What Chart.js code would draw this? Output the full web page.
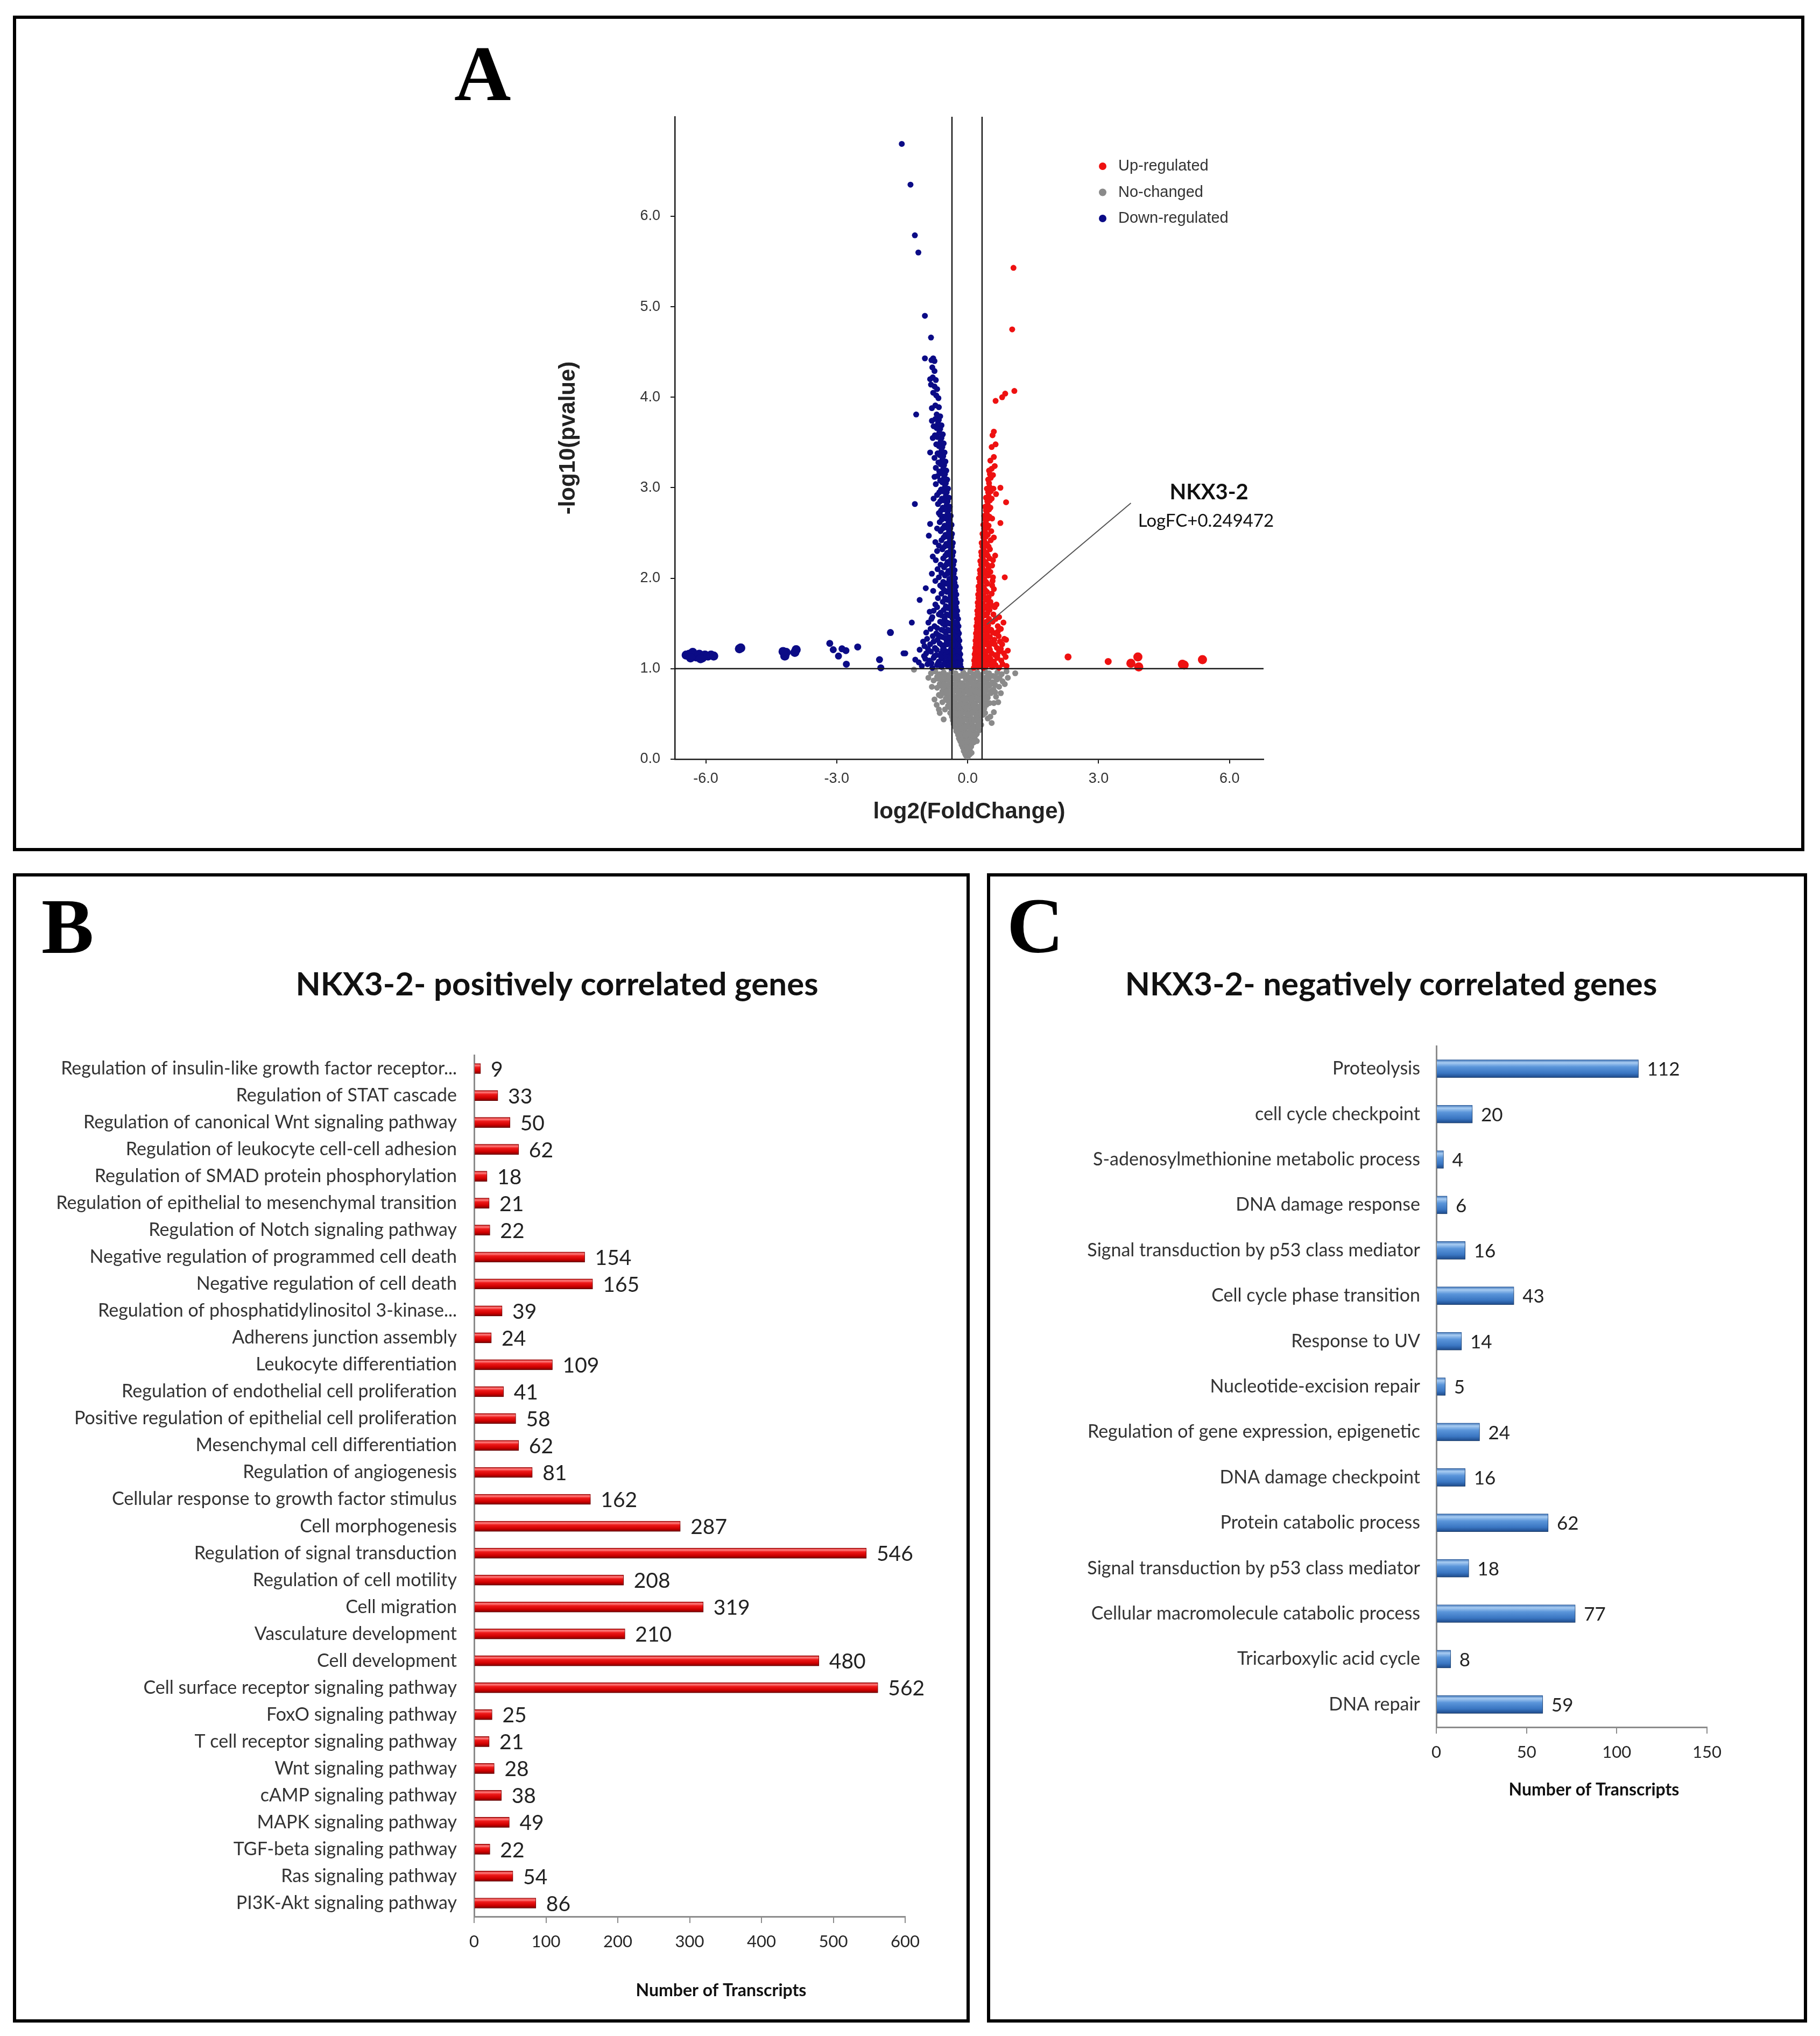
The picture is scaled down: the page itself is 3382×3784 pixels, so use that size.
<!DOCTYPE html>
<html>
<head>
<meta charset="utf-8">
<title>NKX3-2 volcano plot and GO enrichment</title>
<script src="https://cdn.jsdelivr.net/npm/chart.js@4.4.1/dist/chart.umd.min.js"></script>
<style>
  html, body { margin: 0; padding: 0; background: #fff; }
  body { width: 3382px; height: 3784px; position: relative; overflow: hidden; }
  .panel { position: absolute; border: 6px solid #000; box-sizing: border-box; background: #fff; }
  .panel canvas { position: absolute; left: 0; top: 0; }
  .letter { position: absolute; font-family: "Liberation Serif", "Times New Roman", serif; font-weight: bold;
            font-size: 146px; line-height: 1; color: #000; }
</style>
</head>
<body>
<div class="panel" style="left:24px;top:29px;width:3329px;height:1553px;">
  <canvas id="volcanoChart" width="3317" height="1541" style="width:3317px;height:1541px;"></canvas>
</div>
<div class="panel" style="left:24px;top:1623px;width:1778px;height:2136px;">
  <canvas id="positiveChart" width="1766" height="2124" style="width:1766px;height:2124px;"></canvas>
</div>
<div class="panel" style="left:1834px;top:1623px;width:1524px;height:2136px;">
  <canvas id="negativeChart" width="1512" height="2124" style="width:1512px;height:2124px;"></canvas>
</div>
<div class="letter" style="left:844px;top:64px;">A</div>
<div class="letter" style="left:77px;top:1649px;">B</div>
<div class="letter" style="left:1871px;top:1648px;">C</div>

<script>
// ---- volcano plot data: [log2 fold change, -log10 p] ----
const volcanoSeries = ['Up-regulated', 'No-changed', 'Down-regulated'];

const upRegulated = [
  [0.14,1.01],[0.19,1.04],[0.24,1.02],[0.30,1.05],[0.36,1.01],[0.42,1.03],[0.49,1.06],[0.56,1.02],[0.64,1.04],[0.72,1.01],[0.80,1.05],[0.89,1.03],
  [0.15,1.09],[0.20,1.11],[0.26,1.08],[0.32,1.12],[0.38,1.09],[0.45,1.07],[0.52,1.11],[0.60,1.08],[0.68,1.12],[0.77,1.09],[0.87,1.13],
  [0.16,1.16],[0.21,1.18],[0.27,1.15],[0.33,1.19],[0.40,1.16],[0.47,1.20],[0.55,1.17],[0.63,1.15],[0.72,1.19],[0.83,1.17],
  [0.17,1.23],[0.22,1.26],[0.28,1.24],[0.34,1.22],[0.41,1.27],[0.49,1.24],[0.58,1.28],[0.67,1.23],[0.79,1.27],[0.88,1.32],
  [0.18,1.31],[0.23,1.33],[0.29,1.30],[0.35,1.34],[0.43,1.31],[0.51,1.35],[0.61,1.32],[0.71,1.36],[0.84,1.33],
  [0.19,1.39],[0.24,1.41],[0.30,1.38],[0.37,1.42],[0.45,1.40],[0.54,1.43],[0.64,1.39],[0.76,1.44],
  [0.20,1.47],[0.25,1.49],[0.31,1.46],[0.38,1.50],[0.47,1.48],[0.57,1.52],[0.69,1.47],[0.82,1.51],
  [0.21,1.55],[0.26,1.58],[0.32,1.56],[0.40,1.59],[0.49,1.55],[0.59,1.60],[0.72,1.57],
  [0.22,1.64],[0.27,1.66],[0.33,1.63],[0.41,1.67],[0.50,1.65],[0.62,1.68],
  [0.23,1.73],[0.28,1.75],[0.34,1.72],[0.42,1.76],[0.52,1.74],[0.66,1.71],
  [0.24,1.82],[0.29,1.84],[0.36,1.81],[0.44,1.85],[0.55,1.83],[0.60,1.88],
  [0.25,1.91],[0.31,1.93],[0.37,1.90],[0.45,1.94],[0.56,1.92],
  [0.26,2.00],[0.32,2.02],[0.38,1.99],[0.47,2.03],[0.58,2.01],[0.85,2.01],
  [0.28,2.09],[0.34,2.11],[0.40,2.08],[0.48,2.12],[0.56,2.14],
  [0.29,2.19],[0.35,2.21],[0.41,2.18],[0.50,2.22],[0.58,2.20],
  [0.31,2.29],[0.37,2.31],[0.43,2.28],[0.51,2.32],
  [0.32,2.39],[0.38,2.41],[0.44,2.38],[0.53,2.42],
  [0.34,2.49],[0.40,2.51],[0.46,2.48],[0.54,2.52],
  [0.36,2.59],[0.42,2.61],[0.48,2.58],[0.75,2.61],
  [0.38,2.69],[0.44,2.71],[0.50,2.68],
  [0.40,2.79],[0.46,2.81],[0.52,2.78],[0.88,2.84],
  [0.42,2.89],[0.48,2.91],[0.55,2.88],[0.65,2.93],
  [0.44,2.99],[0.50,3.01],[0.75,3.00],
  [0.47,3.09],[0.53,3.11],[0.58,3.14],
  [0.49,3.19],[0.55,3.21],[0.62,3.24],
  [0.52,3.30],[0.60,3.34],
  [0.55,3.45],[0.64,3.48],
  [0.57,3.58],[0.60,3.62],
  [0.16,1.05],[0.22,1.05],[0.27,1.06],[0.33,1.05],[0.39,1.06],[0.46,1.05],[0.53,1.04],
  [0.17,1.12],[0.23,1.13],[0.29,1.12],[0.35,1.13],[0.42,1.12],[0.49,1.13],
  [0.18,1.19],[0.24,1.20],[0.30,1.19],[0.36,1.20],[0.43,1.19],[0.51,1.21],
  [0.19,1.27],[0.25,1.28],[0.31,1.27],[0.38,1.28],[0.45,1.27],[0.53,1.29],
  [0.20,1.35],[0.26,1.36],[0.32,1.35],[0.39,1.36],[0.47,1.35],
  [0.21,1.43],[0.27,1.44],[0.33,1.43],[0.41,1.44],[0.50,1.43],
  [0.22,1.51],[0.28,1.52],[0.35,1.51],[0.43,1.52],
  [0.23,1.60],[0.29,1.61],[0.36,1.60],[0.45,1.61],
  [0.24,1.69],[0.30,1.70],[0.37,1.69],[0.46,1.70],
  [0.25,1.78],[0.31,1.79],[0.39,1.78],[0.48,1.79],
  [0.26,1.87],[0.33,1.88],[0.40,1.87],
  [0.28,1.96],[0.34,1.97],[0.42,1.96],
  [0.29,2.05],[0.35,2.06],[0.43,2.05],
  [0.31,2.15],[0.37,2.16],[0.45,2.15],
  [0.32,2.25],[0.39,2.26],[0.46,2.25],
  [0.34,2.35],[0.40,2.36],[0.48,2.35],
  [0.36,2.45],[0.42,2.46],[0.38,2.55],[0.45,2.56],[0.40,2.65],[0.47,2.66],
  [0.42,2.75],[0.49,2.76],[0.45,2.85],[0.51,2.86],[0.47,2.95],[0.53,2.96],
  [0.49,3.05],[0.51,3.15],
  [0.58,1.06],[0.68,1.15],[0.76,1.22],[0.92,1.20],[0.62,1.27],[0.74,1.30],[0.58,1.40],[0.69,1.41],
  [0.64,1.55],[0.55,1.70],[0.57,1.97],[0.52,2.07],[0.63,2.25],[0.60,2.45],[0.56,2.66],[0.59,2.99],
  [0.64,3.96],[0.79,4.00],[0.86,4.04],[1.07,4.07],[1.02,4.75],[1.05,5.43],
  [2.30,1.13],[3.22,1.08],[3.74,1.06],[3.90,1.13],[3.92,1.02],[4.92,1.05],[4.96,1.04],[5.38,1.10]
];

const noChanged = [
  [-0.84,0.95],[-0.74,0.97],[-0.64,0.94],[-0.55,0.96],[-0.46,0.93],[-0.37,0.97],[-0.28,0.95],[-0.19,0.92],[-0.10,0.96],[-0.02,0.93],
  [0.06,0.97],[0.14,0.94],[0.22,0.96],[0.31,0.93],[0.40,0.97],[0.49,0.95],[0.58,0.92],[0.68,0.96],[0.78,0.94],[0.89,0.97],
  [-0.78,0.87],[-0.68,0.89],[-0.58,0.86],[-0.49,0.88],[-0.40,0.85],[-0.31,0.89],[-0.22,0.87],[-0.13,0.84],[-0.04,0.88],
  [0.05,0.86],[0.13,0.89],[0.21,0.85],[0.30,0.88],[0.39,0.86],[0.48,0.89],[0.57,0.85],[0.67,0.88],[0.80,0.86],
  [-0.70,0.79],[-0.60,0.81],[-0.50,0.78],[-0.42,0.80],[-0.34,0.77],[-0.26,0.81],[-0.18,0.79],[-0.10,0.76],[-0.02,0.80],
  [0.07,0.78],[0.15,0.81],[0.23,0.77],[0.31,0.80],[0.40,0.78],[0.49,0.81],[0.59,0.77],[0.72,0.80],
  [-0.66,0.71],[-0.54,0.73],[-0.45,0.70],[-0.37,0.72],[-0.29,0.69],[-0.21,0.73],[-0.13,0.71],[-0.05,0.68],
  [0.03,0.72],[0.11,0.70],[0.19,0.73],[0.27,0.69],[0.35,0.72],[0.44,0.70],[0.53,0.73],[0.65,0.69],
  [-0.58,0.63],[-0.47,0.65],[-0.39,0.62],[-0.31,0.64],[-0.24,0.61],[-0.16,0.65],[-0.08,0.63],
  [0.00,0.60],[0.08,0.64],[0.16,0.62],[0.24,0.65],[0.32,0.61],[0.40,0.64],[0.50,0.62],
  [-0.52,0.55],[-0.40,0.57],[-0.33,0.54],[-0.26,0.56],[-0.19,0.53],[-0.12,0.57],[-0.05,0.55],
  [0.02,0.52],[0.09,0.56],[0.16,0.54],[0.23,0.57],[0.30,0.53],[0.38,0.56],[0.52,0.47],
  [-0.36,0.47],[-0.29,0.49],[-0.22,0.46],[-0.15,0.48],[-0.08,0.45],[-0.01,0.49],[0.06,0.47],[0.13,0.44],[0.20,0.48],[0.27,0.46],[0.35,0.49],[0.46,0.45],
  [-0.32,0.39],[-0.25,0.41],[-0.18,0.38],[-0.11,0.40],[-0.04,0.37],[0.03,0.41],[0.10,0.39],[0.17,0.36],[0.24,0.40],[0.31,0.38],
  [-0.26,0.31],[-0.19,0.33],[-0.12,0.30],[-0.06,0.32],[0.01,0.29],[0.07,0.33],[0.14,0.31],[0.21,0.28],[0.27,0.32],
  [-0.20,0.23],[-0.14,0.25],[-0.08,0.22],[-0.02,0.24],[0.04,0.21],[0.10,0.25],[0.16,0.23],[0.21,0.20],
  [-0.14,0.16],[-0.09,0.18],[-0.03,0.15],[0.02,0.17],[0.07,0.14],[0.12,0.18],
  [-0.09,0.09],[-0.04,0.11],[0.01,0.08],[0.05,0.10],[0.09,0.07],
  [-0.04,0.04],[0.00,0.02],[0.04,0.05],
  [-0.70,0.91],[-0.60,0.91],[-0.51,0.92],[-0.42,0.91],[-0.33,0.90],[-0.24,0.91],[-0.15,0.92],[-0.06,0.91],[0.02,0.90],
  [0.10,0.91],[0.18,0.92],[0.26,0.91],[0.35,0.90],[0.44,0.91],[0.53,0.92],[0.63,0.91],[0.73,0.90],
  [-0.64,0.83],[-0.54,0.83],[-0.45,0.82],[-0.36,0.83],[-0.27,0.84],[-0.18,0.83],[-0.09,0.82],[0.00,0.83],
  [0.09,0.84],[0.17,0.83],[0.26,0.82],[0.35,0.83],[0.44,0.84],[0.53,0.83],[0.63,0.82],
  [-0.58,0.75],[-0.48,0.75],[-0.40,0.74],[-0.32,0.75],[-0.24,0.76],[-0.16,0.75],[-0.08,0.74],[0.01,0.75],
  [0.09,0.76],[0.17,0.75],[0.25,0.74],[0.34,0.75],[0.43,0.76],[0.53,0.75],
  [-0.50,0.67],[-0.42,0.67],[-0.34,0.66],[-0.26,0.67],[-0.18,0.68],[-0.10,0.67],[-0.02,0.66],
  [0.06,0.67],[0.14,0.68],[0.22,0.67],[0.30,0.66],[0.38,0.67],[0.46,0.68],
  [-0.45,0.59],[-0.36,0.59],[-0.29,0.58],[-0.22,0.59],[-0.15,0.60],[-0.08,0.59],[-0.01,0.58],
  [0.06,0.59],[0.13,0.60],[0.20,0.59],[0.27,0.58],[0.34,0.59],[0.43,0.60],
  [-0.40,0.51],[-0.32,0.51],[-0.25,0.50],[-0.18,0.51],[-0.11,0.52],[-0.04,0.51],[0.03,0.50],
  [0.10,0.51],[0.17,0.52],[0.24,0.51],[0.31,0.50],[0.40,0.51],
  [-0.34,0.43],[-0.27,0.43],[-0.20,0.42],[-0.13,0.43],[-0.06,0.44],[0.01,0.43],[0.08,0.42],[0.15,0.43],[0.22,0.44],[0.29,0.43],
  [-0.28,0.35],[-0.22,0.35],[-0.15,0.34],[-0.09,0.35],[-0.02,0.36],[0.05,0.35],[0.11,0.34],[0.18,0.35],[0.24,0.36],
  [-0.22,0.27],[-0.17,0.27],[-0.11,0.26],[-0.05,0.27],[0.01,0.28],[0.07,0.27],[0.13,0.26],[0.19,0.27],
  [-0.17,0.20],[-0.11,0.20],[-0.06,0.19],[0.00,0.20],[0.05,0.21],[0.10,0.20],[0.15,0.19],
  [-0.11,0.13],[-0.06,0.13],[-0.01,0.12],[0.03,0.13],[0.08,0.14],
  [-0.06,0.06],[-0.02,0.06],[0.02,0.07],[0.06,0.06],
  [-0.90,0.90],[-0.82,0.80],[0.85,0.83],[0.92,0.90],[0.76,0.73],[-0.76,0.66],[0.70,0.63],[-0.66,0.55],
  [0.60,0.52],[-0.55,0.44],[0.55,0.40],
  [1.09,0.95],[-1.23,0.99],[-0.64,0.51],[0.60,0.62],[-0.62,0.70],[0.63,0.74],[-0.71,0.60]
];

const downRegulated = [
  [-0.15,1.01],[-0.20,1.04],[-0.26,1.02],[-0.32,1.05],[-0.38,1.01],[-0.45,1.03],[-0.52,1.06],[-0.60,1.02],[-0.70,1.04],[-0.81,1.01],[-0.92,1.05],[-1.05,1.03],
  [-0.16,1.09],[-0.22,1.11],[-0.29,1.08],[-0.35,1.12],[-0.42,1.09],[-0.49,1.07],[-0.57,1.11],[-0.66,1.08],[-0.78,1.12],[-0.88,1.09],[-1.00,1.14],[-1.20,1.10],
  [-0.17,1.16],[-0.23,1.18],[-0.30,1.15],[-0.37,1.19],[-0.44,1.16],[-0.53,1.20],[-0.61,1.17],[-0.72,1.15],[-0.84,1.19],[-0.95,1.17],[-1.10,1.21],
  [-0.18,1.23],[-0.24,1.26],[-0.31,1.24],[-0.38,1.22],[-0.46,1.27],[-0.55,1.24],[-0.64,1.28],[-0.75,1.23],[-0.86,1.27],[-0.99,1.25],
  [-0.19,1.31],[-0.25,1.33],[-0.32,1.30],[-0.40,1.34],[-0.48,1.31],[-0.58,1.35],[-0.69,1.32],[-0.80,1.36],[-0.93,1.33],
  [-0.20,1.39],[-0.26,1.41],[-0.33,1.38],[-0.41,1.42],[-0.50,1.40],[-0.60,1.43],[-0.72,1.39],[-0.85,1.44],
  [-0.21,1.47],[-0.27,1.49],[-0.34,1.46],[-0.42,1.50],[-0.52,1.48],[-0.63,1.52],[-0.76,1.47],[-0.90,1.51],
  [-0.22,1.55],[-0.28,1.58],[-0.35,1.56],[-0.43,1.59],[-0.53,1.55],[-0.66,1.60],[-0.81,1.57],
  [-0.24,1.64],[-0.30,1.66],[-0.37,1.63],[-0.45,1.67],[-0.55,1.65],[-0.70,1.68],[-0.87,1.63],
  [-0.25,1.73],[-0.31,1.75],[-0.38,1.72],[-0.46,1.76],[-0.57,1.74],[-0.74,1.71],[-1.10,1.76],
  [-0.26,1.82],[-0.32,1.84],[-0.39,1.81],[-0.48,1.85],[-0.60,1.83],[-0.79,1.86],
  [-0.27,1.91],[-0.33,1.93],[-0.41,1.90],[-0.50,1.94],[-0.63,1.92],[-0.96,1.89],
  [-0.29,2.00],[-0.35,2.02],[-0.42,1.99],[-0.52,2.03],[-0.66,2.01],[-0.82,2.05],
  [-0.30,2.09],[-0.36,2.11],[-0.44,2.08],[-0.54,2.12],[-0.69,2.10],
  [-0.31,2.19],[-0.38,2.21],[-0.46,2.18],[-0.56,2.22],[-0.73,2.20],[-0.80,2.24],
  [-0.33,2.29],[-0.39,2.31],[-0.47,2.28],[-0.58,2.32],[-0.70,2.30],
  [-0.34,2.39],[-0.41,2.41],[-0.49,2.38],[-0.60,2.42],[-0.74,2.40],
  [-0.36,2.49],[-0.43,2.51],[-0.51,2.48],[-0.62,2.52],[-0.89,2.47],
  [-0.37,2.59],[-0.44,2.61],[-0.53,2.58],[-0.64,2.62],[-0.86,2.60],
  [-0.39,2.69],[-0.46,2.71],[-0.55,2.68],[-0.66,2.72],
  [-0.41,2.79],[-0.48,2.81],[-0.57,2.78],[-0.68,2.82],[-1.21,2.82],
  [-0.43,2.89],[-0.50,2.91],[-0.59,2.88],[-0.70,2.92],
  [-0.45,2.99],[-0.52,3.01],[-0.61,2.98],[-0.73,3.04],
  [-0.47,3.09],[-0.54,3.11],[-0.63,3.08],[-0.76,3.12],
  [-0.49,3.19],[-0.56,3.21],[-0.65,3.18],[-0.73,3.22],
  [-0.51,3.29],[-0.58,3.31],[-0.67,3.28],[-0.76,3.33],
  [-0.53,3.39],[-0.60,3.41],[-0.69,3.38],[-0.86,3.39],
  [-0.55,3.49],[-0.62,3.51],[-0.72,3.48],[-0.80,3.55],
  [-0.57,3.59],[-0.65,3.61],[-0.75,3.58],
  [-0.60,3.69],[-0.68,3.71],[-0.78,3.68],[-0.82,3.74],
  [-0.63,3.79],[-0.71,3.81],[-1.18,3.81],
  [-0.66,3.89],[-0.74,3.91],[-0.82,3.88],
  [-0.67,3.99],[-0.72,4.02],[-0.79,4.05],
  [-0.70,4.09],[-0.76,4.12],[-0.84,4.14],
  [-0.73,4.19],[-0.80,4.22],[-0.86,4.20],
  [-0.76,4.29],[-0.81,4.33],
  [-0.76,4.40],[-0.79,4.43],[-0.83,4.41],[-0.98,4.43],
  [-0.17,1.05],[-0.23,1.06],[-0.29,1.05],[-0.35,1.06],[-0.41,1.05],[-0.48,1.04],[-0.55,1.05],
  [-0.19,1.12],[-0.25,1.13],[-0.31,1.12],[-0.38,1.13],[-0.45,1.12],[-0.52,1.14],[-0.61,1.13],
  [-0.20,1.19],[-0.26,1.20],[-0.33,1.19],[-0.40,1.20],[-0.48,1.19],[-0.57,1.21],
  [-0.21,1.26],[-0.27,1.27],[-0.34,1.26],[-0.42,1.28],[-0.50,1.27],[-0.59,1.26],
  [-0.22,1.34],[-0.28,1.35],[-0.35,1.34],[-0.43,1.35],[-0.52,1.34],[-0.63,1.36],
  [-0.23,1.42],[-0.29,1.43],[-0.37,1.42],[-0.45,1.43],[-0.55,1.42],
  [-0.24,1.50],[-0.30,1.51],[-0.38,1.50],[-0.47,1.51],[-0.57,1.50],
  [-0.25,1.59],[-0.31,1.60],[-0.39,1.59],[-0.48,1.60],[-0.60,1.59],
  [-0.27,1.68],[-0.33,1.69],[-0.41,1.68],[-0.50,1.69],
  [-0.28,1.77],[-0.35,1.78],[-0.42,1.77],[-0.52,1.78],
  [-0.29,1.86],[-0.36,1.87],[-0.44,1.86],[-0.54,1.87],
  [-0.30,1.95],[-0.37,1.96],[-0.45,1.95],[-0.56,1.96],
  [-0.32,2.05],[-0.39,2.06],[-0.47,2.05],[-0.60,2.06],
  [-0.33,2.15],[-0.40,2.16],[-0.49,2.15],
  [-0.35,2.25],[-0.42,2.26],[-0.51,2.25],
  [-0.36,2.35],[-0.44,2.36],[-0.53,2.35],
  [-0.38,2.45],[-0.46,2.46],[-0.55,2.45],
  [-0.40,2.55],[-0.48,2.56],[-0.57,2.55],
  [-0.42,2.65],[-0.50,2.66],[-0.59,2.65],
  [-0.44,2.75],[-0.52,2.76],[-0.61,2.75],
  [-0.46,2.85],[-0.54,2.86],[-0.63,2.85],
  [-0.48,2.95],[-0.56,2.96],[-0.65,2.95],
  [-0.50,3.05],[-0.58,3.06],[-0.52,3.15],[-0.60,3.16],[-0.54,3.25],[-0.62,3.26],
  [-0.56,3.35],[-0.64,3.36],[-0.58,3.45],[-0.66,3.46],[-0.60,3.55],[-0.69,3.56],
  [-0.63,3.65],[-0.71,3.66],[-0.66,3.75],[-0.74,3.76],
  [-0.68,1.06],[-0.76,1.14],[-0.83,1.06],[-0.97,1.11],[-1.12,1.07],[-0.71,1.21],[-0.91,1.22],[-0.78,1.30],
  [-1.02,1.30],[-0.67,1.37],[-0.95,1.40],[-0.70,1.45],[-0.83,1.55],[-0.62,1.62],[-0.78,1.64],[-0.68,1.78],
  [-0.58,1.90],[-0.74,1.97],[-0.62,2.15],[-0.66,2.36],[-0.70,2.55],[-0.63,2.70],[-0.78,2.88],[-0.69,3.13],
  [-0.84,4.66],[-0.98,4.90],[-1.13,5.60],[-1.21,5.79],[-1.31,6.35],[-1.51,6.80],
  [-1.28,1.51],[-1.77,1.40],[-1.47,1.17],[-1.43,1.17],[-2.02,1.10],[-1.99,1.01],[-2.52,1.24],[-2.79,1.20],[-2.88,1.22],
  [-2.78,1.05],[-2.96,1.14],[-3.08,1.21],[-3.16,1.28],[-3.93,1.21],[-3.96,1.18],[-4.16,1.18],[-4.19,1.14],[-4.23,1.19],
  [-5.20,1.23],[-5.23,1.22],
  [-6.45,1.15],[-6.38,1.16],[-6.30,1.18],[-6.22,1.13],[-6.15,1.16],[-6.08,1.12],[-6.02,1.15],[-5.95,1.14],[-5.88,1.15],
  [-5.82,1.14],[-6.12,1.11],[-6.35,1.12]
];

const foldChangeCuts = [-0.36, 0.33];
const pValueCut = 1.0;
const volcanoXRange = [-6.71, 6.78];
const volcanoYRange = [0, 7.1];
const volcanoXTicks = [-6, -3, 0, 3, 6];
const volcanoYTicks = [0, 1, 2, 3, 4, 5, 6];
const highlightGene = 'NKX3-2';
const highlightNote = 'LogFC+0.249472';

// ---- GO terms, positively correlated ----
const posCategories = [
  'Regulation of insulin-like growth factor receptor...', 'Regulation of STAT cascade',
  'Regulation of canonical Wnt signaling pathway', 'Regulation of leukocyte cell-cell adhesion',
  'Regulation of SMAD protein phosphorylation', 'Regulation of epithelial to mesenchymal transition',
  'Regulation of Notch signaling pathway', 'Negative regulation of programmed cell death',
  'Negative regulation of cell death', 'Regulation of phosphatidylinositol 3-kinase...',
  'Adherens junction assembly', 'Leukocyte differentiation',
  'Regulation of endothelial cell proliferation', 'Positive regulation of epithelial cell proliferation',
  'Mesenchymal cell differentiation', 'Regulation of angiogenesis',
  'Cellular response to growth factor stimulus', 'Cell morphogenesis',
  'Regulation of signal transduction', 'Regulation of cell motility',
  'Cell migration', 'Vasculature development', 'Cell development',
  'Cell surface receptor signaling pathway', 'FoxO signaling pathway',
  'T cell receptor signaling pathway', 'Wnt signaling pathway', 'cAMP signaling pathway',
  'MAPK signaling pathway', 'TGF-beta signaling pathway', 'Ras signaling pathway',
  'PI3K-Akt signaling pathway'
];
const posCounts = [9, 33, 50, 62, 18, 21, 22, 154, 165, 39, 24, 109, 41, 58, 62, 81,
                   162, 287, 546, 208, 319, 210, 480, 562, 25, 21, 28, 38, 49, 22, 54, 86];
const posTicks = [0, 100, 200, 300, 400, 500, 600];

// ---- GO terms, negatively correlated ----
const negCategories = [
  'Proteolysis', 'cell cycle checkpoint', 'S-adenosylmethionine metabolic process',
  'DNA damage response', 'Signal transduction by p53 class mediator', 'Cell cycle phase transition',
  'Response to UV', 'Nucleotide-excision repair', 'Regulation of gene expression, epigenetic',
  'DNA damage checkpoint', 'Protein catabolic process', 'Signal transduction by p53 class mediator',
  'Cellular macromolecule catabolic process', 'Tricarboxylic acid cycle', 'DNA repair'
];
const negCounts = [112, 20, 4, 6, 16, 43, 14, 5, 24, 16, 62, 18, 77, 8, 59];
const negTicks = [0, 50, 100, 150];

const arialFont = '"Liberation Sans", Arial, sans-serif';
const calibriFont = 'Lato, "Open Sans", sans-serif';

const upColor = '#ee1111';
const grayColor = '#8a8a8a';
const downColor = '#0b0b86';

(function () {
    const toPoints = arr => arr.map(p => ({ x: p[0], y: p[1] }));
    const dotSize = ctx => {
        const ax = ctx.raw ? Math.abs(ctx.raw.x) : 0;
        return ax > 3.5 ? 8.5 : (ax > 1.6 ? 6.5 : 5.5);
    };

    // Legend box and the NKX3-2 callout inside the volcano plot area
    const volcanoNotes = {
        id: 'volcanoNotes',
        afterDraw(chart) {
            const { ctx, chartArea } = chart;
            const xs = chart.scales.x, ys = chart.scales.y;
            const colors = [upColor, grayColor, downColor];
            ctx.save();
            ctx.font = '29px ' + arialFont;
            ctx.textBaseline = 'middle';
            ctx.textAlign = 'left';
            volcanoSeries.forEach((name, i) => {
                const cx = chartArea.left + 795;
                const cy = chartArea.top + 92 + i * 48.5;
                ctx.fillStyle = colors[i];
                ctx.beginPath();
                ctx.arc(cx, cy, 7, 0, Math.PI * 2);
                ctx.fill();
                ctx.fillStyle = '#333';
                ctx.fillText(name, cx + 29, cy);
            });

            ctx.strokeStyle = '#555';
            ctx.lineWidth = 2;
            ctx.beginPath();
            ctx.moveTo(xs.getPixelForValue(3.74), ys.getPixelForValue(2.83));
            ctx.lineTo(xs.getPixelForValue(0.44), ys.getPixelForValue(1.49));
            ctx.stroke();

            ctx.textAlign = 'center';
            ctx.fillStyle = '#111';
            ctx.font = 'bold 40px ' + calibriFont;
            ctx.fillText(highlightGene, xs.getPixelForValue(5.53), ys.getPixelForValue(2.95));
            ctx.font = '33px ' + calibriFont;
            ctx.fillText(highlightNote, xs.getPixelForValue(5.46), ys.getPixelForValue(2.63));
            ctx.restore();
        }
    };

    const cutLine = pts => ({
        data: pts, showLine: true, pointRadius: 0, borderColor: '#1a1a1a', borderWidth: 2.5, order: 0
    });

    const volcanoCtx = document.getElementById('volcanoChart');
    if (volcanoCtx) {
        new Chart(volcanoCtx, {
            type: 'scatter',
            data: {
                datasets: [
                    { label: volcanoSeries[1], data: toPoints(noChanged), pointBackgroundColor: grayColor,
                      pointBorderWidth: 0, pointRadius: dotSize, order: 3 },
                    { label: volcanoSeries[2], data: toPoints(downRegulated), pointBackgroundColor: downColor,
                      pointBorderWidth: 0, pointRadius: dotSize, order: 2 },
                    { label: volcanoSeries[0], data: toPoints(upRegulated), pointBackgroundColor: upColor,
                      pointBorderWidth: 0, pointRadius: dotSize, order: 2 },
                    cutLine([{ x: volcanoXRange[0], y: pValueCut }, { x: volcanoXRange[1], y: pValueCut }]),
                    cutLine([{ x: foldChangeCuts[0], y: volcanoYRange[0] }, { x: foldChangeCuts[0], y: volcanoYRange[1] }]),
                    cutLine([{ x: foldChangeCuts[1], y: volcanoYRange[0] }, { x: foldChangeCuts[1], y: volcanoYRange[1] }])
                ]
            },
            options: {
                responsive: false,
                animation: false,
                devicePixelRatio: 1,
                layout: { padding: { left: 994, right: 999, top: 182, bottom: 35 } },
                plugins: {
                    legend: { display: false },
                    tooltip: { enabled: false }
                },
                scales: {
                    x: {
                        type: 'linear',
                        min: volcanoXRange[0],
                        max: volcanoXRange[1],
                        afterBuildTicks: s => { s.ticks = volcanoXTicks.map(v => ({ value: v })); },
                        afterFit: s => { s.height = 130; s.paddingLeft = 0; s.paddingRight = 0; },
                        grid: { drawOnChartArea: false, tickLength: 8, color: '#1a1a1a', lineWidth: 2 },
                        border: { color: '#1a1a1a', width: 2.5 },
                        ticks: { font: { family: arialFont, size: 27 }, color: '#333', padding: 12,
                                 callback: v => Number(v).toFixed(1) },
                        title: { display: true, text: 'log2(FoldChange)', color: '#222',
                                 font: { family: arialFont, size: 42, weight: 'bold' },
                                 padding: { top: 0, bottom: 6 } }
                    },
                    y: {
                        min: volcanoYRange[0],
                        max: volcanoYRange[1],
                        afterBuildTicks: s => { s.ticks = volcanoYTicks.map(v => ({ value: v })); },
                        afterFit: s => { s.width = 230; s.paddingTop = 0; s.paddingBottom = 0; },
                        grid: { drawOnChartArea: false, tickLength: 8, color: '#1a1a1a', lineWidth: 2 },
                        border: { color: '#1a1a1a', width: 2.5 },
                        ticks: { font: { family: arialFont, size: 27 }, color: '#333', padding: 19,
                                 callback: v => Number(v).toFixed(1) },
                        title: { display: true, text: '-log10(pvalue)', color: '#222',
                                 font: { family: arialFont, size: 42, weight: 'bold' },
                                 padding: { top: 7, bottom: 0 } }
                    }
                }
            },
            plugins: [volcanoNotes]
        });
    }

    // Glossy horizontal bars: gradient across the bar thickness
    function barFill(c, thickness, stops) {
        const chart = c.chart;
        if (!chart.chartArea || !chart.scales.y) return stops[2][1];
        const y = chart.scales.y.getPixelForValue(c.dataIndex);
        const g = chart.ctx.createLinearGradient(0, y - thickness / 2, 0, y + thickness / 2);
        stops.forEach(s => g.addColorStop(s[0], s[1]));
        return g;
    }

    const barShade = {
        id: 'barShade',
        beforeDatasetsDraw(chart) {
            const c = chart.ctx;
            c.save();
            c.shadowColor = 'rgba(0, 0, 0, 0.35)';
            c.shadowBlur = 8;
            c.shadowOffsetX = 3;
            c.shadowOffsetY = 6;
        },
        afterDatasetsDraw(chart) {
            chart.ctx.restore();
        }
    };

    const barValues = {
        id: 'barValues',
        afterDatasetsDraw(chart, args, opts) {
            const c = chart.ctx;
            const meta = chart.getDatasetMeta(0);
            const values = chart.data.datasets[0].data;
            c.save();
            c.font = opts.size + 'px ' + calibriFont;
            c.fillStyle = '#222';
            c.textAlign = 'left';
            c.textBaseline = 'middle';
            meta.data.forEach((bar, i) => {
                c.fillText(String(values[i]), bar.x + opts.gap, bar.y + 2);
            });
            c.restore();
        }
    };

    // Chart title and x-axis caption, placed where the original figure had them
    const captions = {
        id: 'captions',
        afterDraw(chart, args, opts) {
            const c = chart.ctx;
            c.save();
            c.fillStyle = '#111';
            c.textAlign = 'center';
            c.textBaseline = 'middle';
            opts.items.forEach(item => {
                c.font = 'bold ' + item.size + 'px ' + calibriFont;
                c.fillText(item.text, item.x, item.y);
            });
            c.restore();
        }
    };

    function correlationChart(canvasId, title, labels, values, tickValues, look) {
        const el = document.getElementById(canvasId);
        if (!el) return;
        new Chart(el, {
            type: 'bar',
            data: {
                labels: labels,
                datasets: [{
                    data: values,
                    barThickness: look.thickness,
                    backgroundColor: c => barFill(c, look.thickness, look.stops),
                    borderColor: look.edge,
                    borderWidth: 1
                }]
            },
            options: {
                indexAxis: 'y',
                responsive: false,
                animation: false,
                devicePixelRatio: 1,
                layout: { padding: look.padding },
                plugins: {
                    legend: { display: false },
                    tooltip: { enabled: false },
                    barValues: { size: look.valueSize, gap: look.valueGap },
                    captions: {
                        items: [
                            { text: title, size: 60, x: look.titleAt[0], y: look.titleAt[1] },
                            { text: 'Number of Transcripts', size: 32, x: look.captionAt[0], y: look.captionAt[1] }
                        ]
                    }
                },
                scales: {
                    x: {
                        min: 0,
                        max: tickValues[tickValues.length - 1],
                        afterBuildTicks: s => { s.ticks = tickValues.map(v => ({ value: v })); },
                        afterFit: s => { s.height = 100; s.paddingLeft = 0; s.paddingRight = 0; },
                        grid: { drawOnChartArea: false, tickLength: 12, color: '#8c8c8c', lineWidth: 2 },
                        border: { color: '#8c8c8c', width: 3 },
                        ticks: { font: { family: calibriFont, size: 31 }, color: '#262626', padding: 16 }
                    },
                    y: {
                        afterFit: s => { s.width = look.yWidth; },
                        grid: { display: false, drawTicks: false },
                        border: { color: '#8c8c8c', width: 3 },
                        ticks: { font: { family: calibriFont, size: 34 }, color: '#333',
                                 padding: look.labelGap, autoSkip: false }
                    }
                }
            },
            plugins: [barShade, barValues, captions]
        });
    }

    correlationChart('positiveChart', 'NKX3-2- positively correlated genes', posCategories, posCounts, posTicks, {
        thickness: 19,
        stops: [[0, '#b80000'], [0.18, '#ff8080'], [0.38, '#ee1a1a'], [0.72, '#d00000'], [1, '#7a0000']],
        edge: '#8a0000',
        padding: { left: 20, right: 114, top: 332, bottom: 91 },
        yWidth: 831,
        labelGap: 32,
        valueSize: 39,
        valueGap: 19,
        titleAt: [1005, 202],
        captionAt: [1310, 2071]
    });

    correlationChart('negativeChart', 'NKX3-2- negatively correlated genes', negCategories, negCounts, negTicks, {
        thickness: 33,
        stops: [[0, '#3d72b6'], [0.16, '#a8ccf2'], [0.4, '#5a95da'], [0.75, '#3a76c2'], [1, '#1d4a8a']],
        edge: '#1f4f8f',
        padding: { left: 20, right: 180, top: 315, bottom: 443 },
        yWidth: 809,
        labelGap: 30,
        valueSize: 35,
        valueGap: 16,
        titleAt: [745, 202],
        captionAt: [1122, 1698]
    });
})();
</script>
</body>
</html>
